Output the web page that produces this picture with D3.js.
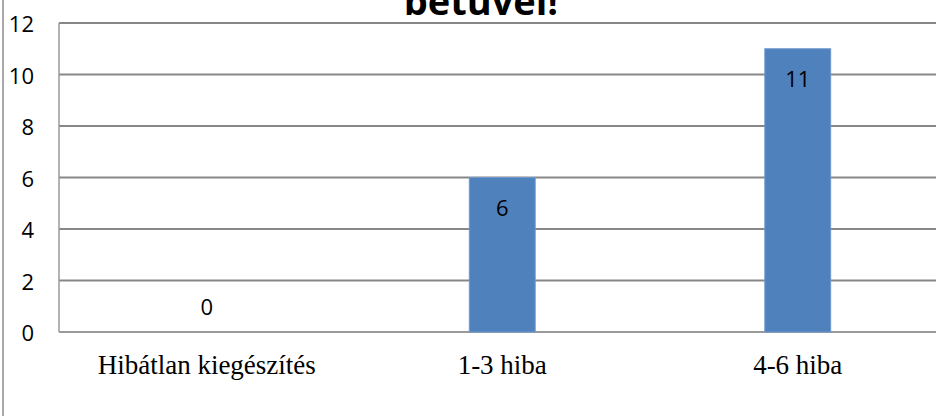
<!DOCTYPE html>
<html>
<head>
<meta charset="utf-8">
<script src="https://cdn.jsdelivr.net/npm/d3@7"></script>
<style>
  body { margin: 0; background: #fff; }
  svg { display: block; }
</style>
</head>
<body>
<div id="chart"></div>
<script>
// data
var categories = ["Hibátlan kiegészítés", "1-3 hiba", "4-6 hiba"];
var values = [0, 6, 11];
var yTicks = [0, 2, 4, 6, 8, 10, 12];
var titleText = "betűvel!";

var width = 936, height = 416;
var plotLeft = 59, plotTop = 23, plotBottom = 332, plotRight = 945.5;

var svg = d3.select("#chart").append("svg")
    .attr("width", width)
    .attr("height", height);

var x = d3.scaleBand()
    .domain(categories)
    .range([plotLeft, plotRight])
    .paddingInner(0.777)
    .paddingOuter(0.3885);

var y = d3.scaleLinear()
    .domain([0, 12])
    .range([plotBottom, plotTop]);

// outer frame (only left edge is visible)
svg.append("line")
    .attr("x1", 3).attr("x2", 3)
    .attr("y1", 0).attr("y2", height)
    .style("stroke", "#8c8c8c")
    .style("stroke-width", 1.5);

// gridlines
svg.append("g")
    .selectAll("line")
    .data(yTicks)
    .enter().append("line")
    .attr("x1", plotLeft).attr("x2", width)
    .attr("y1", function(d) { return y(d) })
    .attr("y2", function(d) { return y(d) })
    .style("stroke", function(d) { return d == 0 ? "#9a9a9a" : "#878787" })
    .style("stroke-width", 2);

// left axis line
svg.append("line")
    .attr("x1", plotLeft).attr("x2", plotLeft)
    .attr("y1", plotTop).attr("y2", plotBottom)
    .style("stroke", "#9a9a9a")
    .style("stroke-width", 1.5);

// y tick labels
svg.append("g")
    .selectAll("text")
    .data(yTicks)
    .enter().append("text")
    .attr("x", 34)
    .attr("y", function(d) { return y(d) + 9 })
    .attr("text-anchor", "end")
    .style("font-family", "'Open Sans', sans-serif")
    .style("font-size", "22px")
    .style("fill", "#000")
    .text(function(d) { return d });

// bars
svg.append("g")
    .selectAll("rect")
    .data(values)
    .enter().append("rect")
    .attr("x", function(d, i) { return x(categories[i]) })
    .attr("y", function(d) { return y(d) })
    .attr("width", x.bandwidth())
    .attr("height", function(d) { return y(0) - y(d) })
    .style("fill", "#4f81bd")
    .style("stroke", "#6f98cc")
    .style("stroke-width", 1);

// value labels
svg.append("g")
    .selectAll("text")
    .data(values)
    .enter().append("text")
    .attr("x", function(d, i) { return x(categories[i]) + x.bandwidth() / 2 })
    .attr("y", function(d) { return d > 0 ? y(d) + 38 : y(0) - 17 })
    .attr("text-anchor", "middle")
    .style("font-family", "'Open Sans', sans-serif")
    .style("font-size", "22px")
    .style("fill", "#000")
    .text(function(d) { return d });

// category labels
svg.append("g")
    .selectAll("text")
    .data(categories)
    .enter().append("text")
    .attr("x", function(d) { return x(d) + x.bandwidth() / 2 })
    .attr("y", 374)
    .attr("text-anchor", "middle")
    .style("font-family", "'Liberation Serif', 'Times New Roman', serif")
    .style("font-size", "27px")
    .style("fill", "#000")
    .text(function(d) { return d });

// title (upper line falls outside the picture)
svg.append("text")
    .attr("x", 481)
    .attr("y", 15)
    .attr("text-anchor", "middle")
    .style("font-family", "'Open Sans', sans-serif")
    .style("font-weight", "bold")
    .style("font-size", "38px")
    .style("fill", "#000")
    .text(titleText);
</script>
</body>
</html>
